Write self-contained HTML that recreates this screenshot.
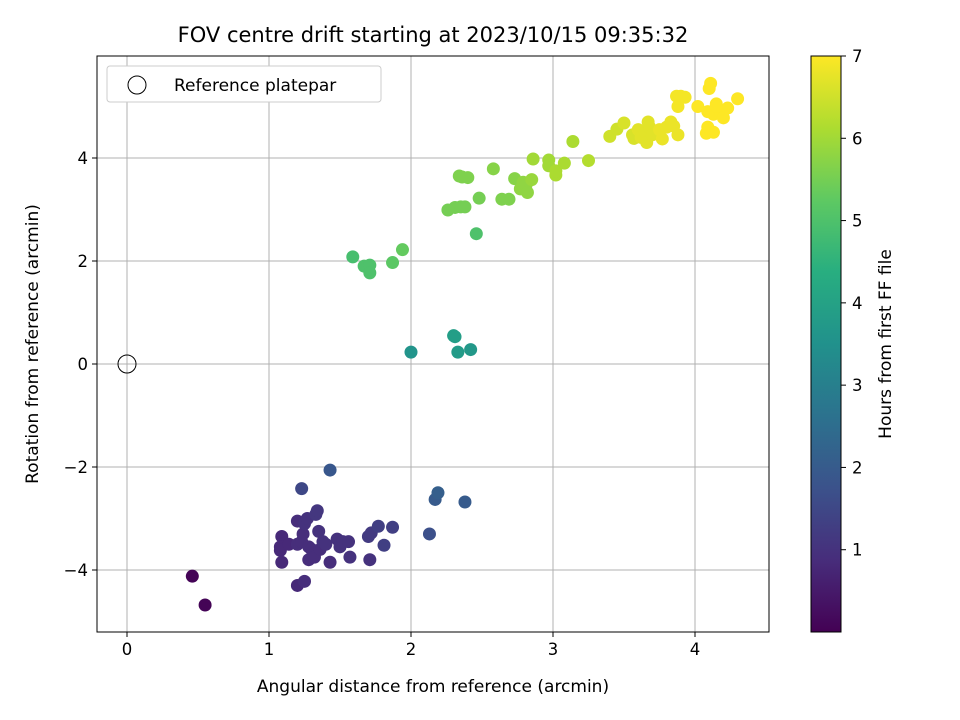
<!DOCTYPE html>
<html><head><meta charset="utf-8"><style>
body{margin:0;background:#fff;}
svg{display:block;font-family:"DejaVu Sans","Liberation Sans",sans-serif;}
</style></head><body>
<svg id="chart" width="960" height="720">
<defs><linearGradient id="vir" x1="0" y1="1" x2="0" y2="0">
<stop offset="0" stop-color="#440154"/><stop offset="0.125" stop-color="#472d7b"/><stop offset="0.25" stop-color="#3b528b"/><stop offset="0.375" stop-color="#2c728e"/><stop offset="0.5" stop-color="#21918c"/><stop offset="0.625" stop-color="#28ae80"/><stop offset="0.75" stop-color="#5ec962"/><stop offset="0.875" stop-color="#addc30"/><stop offset="1" stop-color="#fde725"/></linearGradient></defs>
<text x="433" y="42" font-size="21" text-anchor="middle">FOV centre drift starting at 2023/10/15 09:35:32</text>
<g id="grid"></g><g id="pts"></g><g id="axes"></g>
<rect x="97" y="56" width="672" height="576" fill="none" stroke="#000" stroke-width="1"/>
<text x="433" y="692" font-size="17" text-anchor="middle">Angular distance from reference (arcmin)</text>
<text transform="translate(38,344) rotate(-90)" font-size="17" text-anchor="middle">Rotation from reference (arcmin)</text>
<g>
<rect x="107" y="66" width="274" height="36" rx="3" fill="#fff" stroke="#ccc"/>
<circle cx="137" cy="85" r="9" fill="none" stroke="#000"/>
<text x="174" y="91" font-size="17">Reference platepar</text></g>
<rect x="811" y="56" width="30" height="576" fill="url(#vir)" stroke="#000" stroke-width="1"/>
<g id="cbt"></g>
<text transform="translate(891,344) rotate(-90)" font-size="17" text-anchor="middle">Hours from first FF file</text>
</svg>
<script>
const xTicks=[0,1,2,3,4];
const yTicks=[-4,-2,0,2,4];
const cTicks=[1,2,3,4,5,6,7];
const xs=[0.46,0.55,1.09,1.08,1.08,1.09,1.14,1.2,1.2,1.2,1.23,1.23,1.24,1.25,1.25,1.27,1.28,1.28,1.3,1.32,1.33,1.34,1.35,1.36,1.38,1.4,1.43,1.43,1.48,1.5,1.52,1.56,1.57,1.7,1.71,1.72,1.77,1.81,1.87,2.13,2.17,2.19,2.38,
2.0,2.3,2.31,2.33,2.42,
1.59,1.67,1.71,1.71,1.87,1.94,2.26,2.31,2.34,2.36,2.35,2.38,2.4,2.46,2.48,2.58,2.64,2.69,2.73,2.77,2.79,2.81,2.82,2.85,2.86,2.97,2.97,3.02,3.02,3.08,3.14,3.25,
3.4,3.45,3.5,3.56,3.57,3.6,3.62,3.65,3.66,3.67,3.68,3.7,3.75,3.77,3.8,3.83,3.85,3.87,3.88,3.88,3.9,3.93,4.02,4.08,4.09,4.09,4.1,4.11,4.13,4.13,4.15,4.18,4.2,4.23,4.3,4.15];
const ys=[-4.12,-4.68,-3.35,-3.55,-3.62,-3.85,-3.5,-3.05,-3.5,-4.3,-2.42,-3.45,-3.3,-3.1,-4.22,-3.0,-3.8,-3.55,-3.6,-3.75,-2.92,-2.85,-3.25,-3.6,-3.45,-3.5,-3.85,-2.06,-3.4,-3.55,-3.45,-3.45,-3.75,-3.35,-3.8,-3.28,-3.15,-3.52,-3.17,-3.3,-2.63,-2.5,-2.68,
0.23,0.55,0.53,0.23,0.28,
2.08,1.9,1.92,1.77,1.97,2.22,2.99,3.04,3.65,3.63,3.05,3.05,3.62,2.53,3.22,3.79,3.2,3.2,3.6,3.4,3.53,3.47,3.33,3.58,3.98,3.96,3.85,3.67,3.75,3.9,4.32,3.95,
4.42,4.56,4.68,4.45,4.38,4.55,4.4,4.5,4.3,4.7,4.6,4.45,4.55,4.37,4.6,4.7,4.62,5.2,4.45,5.0,5.2,5.18,5.0,4.48,4.6,4.9,5.35,5.45,4.85,4.5,5.05,4.9,4.78,4.97,5.15,5.0];
const hours=[0.05,0.05,0.8,0.8,0.8,0.8,0.8,0.9,0.9,0.8,1.5,0.9,0.9,1.0,0.9,1.0,0.9,0.9,0.9,0.9,1.1,1.1,1.0,0.9,1.0,1.0,0.9,1.9,1.0,1.0,1.0,1.0,1.0,1.2,1.0,1.2,1.3,1.3,1.3,1.7,2.0,2.1,2.0,
3.6,3.9,3.9,3.8,3.7,
4.9,5.0,5.0,5.0,5.2,5.3,5.5,5.5,5.6,5.6,5.5,5.5,5.6,5.0,5.5,5.7,5.6,5.6,5.7,5.8,5.8,5.8,5.8,5.9,6.0,6.0,6.0,6.1,6.1,6.1,6.1,6.2,
6.5,6.5,6.6,6.6,6.6,6.7,6.7,6.7,6.7,6.7,6.7,6.7,6.8,6.8,6.8,6.8,6.8,6.9,6.8,6.9,6.9,6.9,7.0,7.0,7.0,7.0,7.0,7.0,7.0,7.0,7.0,7.0,7.0,7.0,7.0,7.0];
const X=v=>127+v*142, Y=v=>364-v*51.5, C=v=>632-v*(576/7);
const vir=[[68,1,84],[71,45,123],[59,82,139],[44,114,142],[33,145,140],[40,174,128],[94,201,98],[173,220,48],[253,231,37]];
function col(h){let t=Math.max(0,Math.min(1,h/7))*8,i=Math.min(7,Math.floor(t)),f=t-i;const a=vir[i],b=vir[i+1];return `rgb(${a.map((c,k)=>Math.round(c+(b[k]-c)*f)).join(',')})`;}
const NS="http://www.w3.org/2000/svg";
function mk(tag,at,parent,txt){const e=document.createElementNS(NS,tag);for(const k in at)e.setAttribute(k,at[k]);if(txt!==undefined)e.textContent=txt;document.getElementById(parent).appendChild(e);return e;}
xTicks.forEach(t=>{
 let g=mk('line',{x1:X(t),x2:X(t),y1:56,y2:632,stroke:'#b0b0b0','stroke-width':1},'grid');
 
 
 let k=mk('line',{x1:X(t),x2:X(t),y1:632,y2:637,stroke:'#000'},'axes');
 
 
 let l=mk('text',{x:X(t),y:655,'font-size':16.5,'text-anchor':'middle'},'axes',String(t));
 
 
});
yTicks.forEach(t=>{
 let g=mk('line',{x1:97,x2:769,y1:Y(t),y2:Y(t),stroke:'#b0b0b0','stroke-width':1},'grid');
 
 
 let k=mk('line',{x1:92,x2:97,y1:Y(t),y2:Y(t),stroke:'#000'},'axes');
 
 
 let l=mk('text',{x:88,y:Y(t)+6,'font-size':16.5,'text-anchor':'end'},'axes',(t<0?'\u2212'+(-t):String(t)));
 
 
});
cTicks.forEach(t=>{
 let k=mk('line',{x1:841,x2:846,y1:C(t),y2:C(t),stroke:'#000'},'cbt');
 
 
 let l=mk('text',{x:852,y:C(t)+6,'font-size':16.5},'cbt',String(t));
 
 
});
xs.forEach((x,i)=>{
 let c=mk('circle',{cx:X(x),cy:Y(ys[i]),r:6.5,fill:col(hours[i])},'pts');
 
 
});
let r=mk('circle',{cx:X(0),cy:Y(0),r:9,fill:'none',stroke:'#000'},'pts');


</script>
</body></html>
